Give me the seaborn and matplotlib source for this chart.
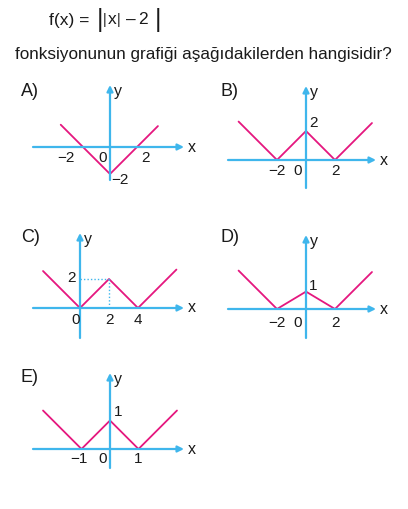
import matplotlib
matplotlib.use("Agg")
import matplotlib.pyplot as plt
import seaborn as sns
import pandas as pd

sns.set_theme(style="white")
plt.rcParams["font.family"] = ["Liberation Sans", "DejaVu Sans"]

# --- data: corner points of each graph ---
a_x = [-3.65, 0, 3.55]
a_y = [1.65, -2, 1.55]
b_x = [-4.65, -2, 0, 2, 4.55]
b_y = [2.65, 0, 2, 0, 2.55]
c_x = [-2.55, 0, 2, 4, 6.65]
c_y = [2.55, 0, 2, 0, 2.65]
d_x = [-4.65, -2, 0, 2, 4.55]
d_y = [2.65, 0, 1.2, 0, 2.55]
e_x = [-2.35, -1, 0, 1, 2.35]
e_y = [1.35, 0, 1, 0, 1.35]

# tick labels per panel
a_xticks = [-2, 2]
a_yticks = [-2]
b_xticks = [-2, 2]
b_yticks = [2]
c_xticks = [2, 4]
c_yticks = [2]
d_xticks = [-2, 2]
d_yticks = [1]
e_xticks = [-1, 1]
e_yticks = [1]

PINK = "#e5177f"
BLUE = "#3fb6ec"
INK = "#1a1a1a"
W, H = 408, 509

fig = plt.figure(figsize=(W / 100, H / 100), dpi=100)


def lbl(v):
    return str(v).replace("-", "\u2212")


def panel(name, xs, ys, ox, oy, s, xl, xr, yt, yb, lab_pos):
    # axes box in pixels, a bit bigger than the drawn axis lines
    L, R, T, B = xl - 5, xr + 14, yt - 6, yb + 4
    ax = fig.add_axes([L / W, 1 - B / H, (R - L) / W, (B - T) / H])
    ax.set_xlim((L - ox) / s, (R - ox) / s)
    ax.set_ylim((oy - B) / s, (oy - T) / s)
    ax.axis("off")
    x0, x1 = (xl - ox) / s, (xr - ox) / s
    y0, y1 = (oy - yb) / s, (oy - yt) / s
    arrow = dict(arrowstyle="-|>", color=BLUE, lw=1.6, mutation_scale=9, shrinkA=0, shrinkB=0)
    ax.annotate("", xy=(x1, 0), xytext=(x0, 0), arrowprops=arrow)
    ax.annotate("", xy=(0, y1), xytext=(0, y0), arrowprops=arrow)
    ax.annotate("x", (x1, 0), xytext=(3, 0), textcoords="offset points",
                fontsize=11.5, va="center", ha="left", color=INK)
    ax.annotate("y", (0, y1), xytext=(3, -5), textcoords="offset points",
                fontsize=11.5, va="center", ha="left", color=INK)
    df = pd.DataFrame({"x": xs, "y": ys})
    sns.lineplot(data=df, x="x", y="y", sort=False, color=PINK, lw=1.3, ax=ax, estimator=None)
    ax.set_xlabel("")
    ax.set_ylabel("")
    fig.text(lab_pos[0] / W, 1 - lab_pos[1] / H, name, fontsize=13, ha="left", va="center", color=INK)
    return ax


tick_kw = dict(fontsize=11, color=INK, textcoords="offset points", va="center")

# A
ax = panel("A)", a_x, a_y, 110, 147, 13.5, 33, 184, 85, 180, (21, 92))
for v in a_xticks:
    ax.annotate(lbl(v), (v, 0), xytext=(-6 if v < 0 else 3, -8),
                ha="right" if v < 0 else "left", **tick_kw)
ax.annotate("0", (0, 0), xytext=(-5, -8), ha="center", **tick_kw)
for v in a_yticks:
    ax.annotate(lbl(v), (0, v), xytext=(1, -4), ha="left", **tick_kw)

# B
ax = panel("B)", b_x, b_y, 306, 160, 14.5, 228, 376, 86, 188, (221, 92))
for v in b_xticks:
    ax.annotate(lbl(v), (v, 0), xytext=(0, -8), ha="center", **tick_kw)
ax.annotate("0", (0, 0), xytext=(-6, -8), ha="center", **tick_kw)
for v in b_yticks:
    ax.annotate(lbl(v), (0, v), xytext=(2, 6), ha="left", **tick_kw)

# C
ax = panel("C)", c_x, c_y, 80, 308, 14.5, 33, 184, 233, 338, (21, 237))
ax.plot([0, c_x[2]], [c_y[2], c_y[2]], ls=(0, (1, 1.5)), color=BLUE, lw=1)
ax.plot([c_x[2], c_x[2]], [0, c_y[2]], ls=(0, (1, 1.5)), color=BLUE, lw=1)
for v in c_xticks:
    ax.annotate(lbl(v), (v, 0), xytext=(0, -9), ha="center", **tick_kw)
ax.annotate("0", (0, 0), xytext=(-3, -9), ha="center", **tick_kw)
for v in c_yticks:
    ax.annotate(lbl(v), (0, v), xytext=(-3, 1), ha="right", **tick_kw)

# D
ax = panel("D)", d_x, d_y, 306, 309, 14.5, 228, 376, 235, 338, (221, 237))
for v in d_xticks:
    ax.annotate(lbl(v), (v, 0), xytext=(0, -10), ha="center", **tick_kw)
ax.annotate("0", (0, 0), xytext=(-6, -10), ha="center", **tick_kw)
for v in d_yticks:
    ax.annotate(lbl(v), (0, v), xytext=(2, 6), ha="left", **tick_kw)

# E
ax = panel("E)", e_x, e_y, 110, 449, 28.5, 33, 184, 373, 468, (21, 378))
for v in e_xticks:
    ax.annotate(lbl(v), (v, 0), xytext=(-2 if v < 0 else 0, -7), ha="center", **tick_kw)
ax.annotate("0", (0, 0), xytext=(-5, -7), ha="center", **tick_kw)
for v in e_yticks:
    ax.annotate(lbl(v), (0, v), xytext=(3, 6), ha="left", **tick_kw)

# heading: f(x) = ||x| - 2|
hy = 1 - 20 / H
fig.text(49 / W, hy, "f(x) =", fontsize=12.5, ha="left", va="center", color=INK)
fig.text(97 / W, hy, "|", fontsize=18, ha="left", va="center", color=INK)
fig.text(103 / W, hy, "|", fontsize=10, ha="left", va="center", color=INK)
fig.text(108 / W, hy, "x", fontsize=12.5, ha="left", va="center", color=INK)
fig.text(117 / W, hy, "|", fontsize=10, ha="left", va="center", color=INK)
fig.text(126 / W, hy, "\u2013", fontsize=12.5, ha="left", va="center", color=INK)
fig.text(138 / W, hy, "2", fontsize=12.5, ha="left", va="center", color=INK)
fig.text(155 / W, hy, "|", fontsize=18, ha="left", va="center", color=INK)
fig.text(15 / W, 1 - 55 / H, "fonksiyonunun grafiği aşağıdakilerden hangisidir?", fontsize=12.3,
         ha="left", va="center", color=INK)

fig.savefig("out.png", dpi=100, facecolor="white")
